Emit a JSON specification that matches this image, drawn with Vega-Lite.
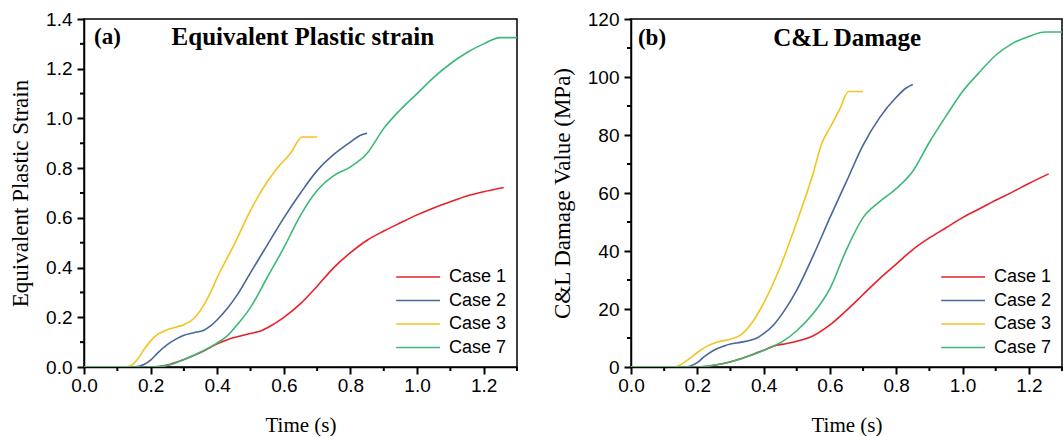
{
  "$schema": "https://vega.github.io/schema/vega-lite/v6.json",
  "padding": {"left": 8, "top": 9, "right": 0, "bottom": 0},
  "spacing": 31,
  "config": {
    "view": {"stroke": "black", "strokeWidth": 1.5},
    "axis": {"ticks": true, "domainColor": "black", "domainWidth": 1.5, "tickColor": "#000000", "tickWidth": 2, "tickSize": 7, "labelColor": "black", "labelFont": "Liberation Sans", "labelFontSize": 19, "titleFont": "Liberation Serif", "titleFontSize": 21, "titleFontWeight": "normal", "titleColor": "black", "grid": false, "labelPadding": 5, "labelFlush": false, "labelOverlap": false},
    "legend": {"labelFont": "Liberation Sans", "labelFontSize": 18, "labelColor": "black"},
    "rule": {"color": "black", "strokeWidth": 2}
  },
  "datasets": {
    "a": [
      {"case": "Case 1", "t": 0, "v": 0}, {"case": "Case 1", "t": 0.2, "v": 0}, {"case": "Case 1", "t": 0.25, "v": 0.008}, {"case": "Case 1", "t": 0.3, "v": 0.03}, {"case": "Case 1", "t": 0.35, "v": 0.058}, {"case": "Case 1", "t": 0.4, "v": 0.093}, {"case": "Case 1", "t": 0.43, "v": 0.11}, {"case": "Case 1", "t": 0.47, "v": 0.125}, {"case": "Case 1", "t": 0.5, "v": 0.135}, {"case": "Case 1", "t": 0.53, "v": 0.145}, {"case": "Case 1", "t": 0.56, "v": 0.165}, {"case": "Case 1", "t": 0.6, "v": 0.2}, {"case": "Case 1", "t": 0.65, "v": 0.255}, {"case": "Case 1", "t": 0.7, "v": 0.325}, {"case": "Case 1", "t": 0.75, "v": 0.4}, {"case": "Case 1", "t": 0.8, "v": 0.46}, {"case": "Case 1", "t": 0.85, "v": 0.51}, {"case": "Case 1", "t": 0.9, "v": 0.547}, {"case": "Case 1", "t": 0.95, "v": 0.58}, {"case": "Case 1", "t": 1.0, "v": 0.612}, {"case": "Case 1", "t": 1.05, "v": 0.64}, {"case": "Case 1", "t": 1.1, "v": 0.665}, {"case": "Case 1", "t": 1.15, "v": 0.688}, {"case": "Case 1", "t": 1.2, "v": 0.705}, {"case": "Case 1", "t": 1.26, "v": 0.722},
      {"case": "Case 2", "t": 0, "v": 0}, {"case": "Case 2", "t": 0.15, "v": 0}, {"case": "Case 2", "t": 0.18, "v": 0.01}, {"case": "Case 2", "t": 0.2, "v": 0.028}, {"case": "Case 2", "t": 0.22, "v": 0.055}, {"case": "Case 2", "t": 0.25, "v": 0.09}, {"case": "Case 2", "t": 0.28, "v": 0.115}, {"case": "Case 2", "t": 0.3, "v": 0.128}, {"case": "Case 2", "t": 0.33, "v": 0.138}, {"case": "Case 2", "t": 0.36, "v": 0.148}, {"case": "Case 2", "t": 0.38, "v": 0.165}, {"case": "Case 2", "t": 0.4, "v": 0.19}, {"case": "Case 2", "t": 0.43, "v": 0.235}, {"case": "Case 2", "t": 0.46, "v": 0.29}, {"case": "Case 2", "t": 0.5, "v": 0.38}, {"case": "Case 2", "t": 0.55, "v": 0.49}, {"case": "Case 2", "t": 0.6, "v": 0.6}, {"case": "Case 2", "t": 0.65, "v": 0.7}, {"case": "Case 2", "t": 0.7, "v": 0.79}, {"case": "Case 2", "t": 0.75, "v": 0.855}, {"case": "Case 2", "t": 0.8, "v": 0.905}, {"case": "Case 2", "t": 0.83, "v": 0.932}, {"case": "Case 2", "t": 0.85, "v": 0.94},
      {"case": "Case 3", "t": 0, "v": 0}, {"case": "Case 3", "t": 0.12, "v": 0}, {"case": "Case 3", "t": 0.14, "v": 0.005}, {"case": "Case 3", "t": 0.16, "v": 0.03}, {"case": "Case 3", "t": 0.18, "v": 0.07}, {"case": "Case 3", "t": 0.2, "v": 0.105}, {"case": "Case 3", "t": 0.22, "v": 0.13}, {"case": "Case 3", "t": 0.25, "v": 0.15}, {"case": "Case 3", "t": 0.28, "v": 0.162}, {"case": "Case 3", "t": 0.3, "v": 0.17}, {"case": "Case 3", "t": 0.33, "v": 0.195}, {"case": "Case 3", "t": 0.36, "v": 0.25}, {"case": "Case 3", "t": 0.38, "v": 0.3}, {"case": "Case 3", "t": 0.4, "v": 0.36}, {"case": "Case 3", "t": 0.45, "v": 0.49}, {"case": "Case 3", "t": 0.5, "v": 0.63}, {"case": "Case 3", "t": 0.55, "v": 0.745}, {"case": "Case 3", "t": 0.58, "v": 0.8}, {"case": "Case 3", "t": 0.62, "v": 0.86}, {"case": "Case 3", "t": 0.655, "v": 0.925}, {"case": "Case 3", "t": 0.7, "v": 0.925},
      {"case": "Case 7", "t": 0, "v": 0}, {"case": "Case 7", "t": 0.2, "v": 0}, {"case": "Case 7", "t": 0.25, "v": 0.006}, {"case": "Case 7", "t": 0.3, "v": 0.03}, {"case": "Case 7", "t": 0.35, "v": 0.06}, {"case": "Case 7", "t": 0.4, "v": 0.097}, {"case": "Case 7", "t": 0.43, "v": 0.125}, {"case": "Case 7", "t": 0.46, "v": 0.17}, {"case": "Case 7", "t": 0.5, "v": 0.24}, {"case": "Case 7", "t": 0.55, "v": 0.36}, {"case": "Case 7", "t": 0.6, "v": 0.48}, {"case": "Case 7", "t": 0.65, "v": 0.61}, {"case": "Case 7", "t": 0.7, "v": 0.71}, {"case": "Case 7", "t": 0.75, "v": 0.77}, {"case": "Case 7", "t": 0.8, "v": 0.805}, {"case": "Case 7", "t": 0.85, "v": 0.86}, {"case": "Case 7", "t": 0.9, "v": 0.96}, {"case": "Case 7", "t": 0.95, "v": 1.035}, {"case": "Case 7", "t": 1.0, "v": 1.1}, {"case": "Case 7", "t": 1.05, "v": 1.165}, {"case": "Case 7", "t": 1.1, "v": 1.22}, {"case": "Case 7", "t": 1.15, "v": 1.265}, {"case": "Case 7", "t": 1.2, "v": 1.3}, {"case": "Case 7", "t": 1.25, "v": 1.325}, {"case": "Case 7", "t": 1.3, "v": 1.325}
    ],
    "b": [
      {"case": "Case 1", "t": 0, "v": 0}, {"case": "Case 1", "t": 0.2, "v": 0}, {"case": "Case 1", "t": 0.25, "v": 0.6}, {"case": "Case 1", "t": 0.3, "v": 1.8}, {"case": "Case 1", "t": 0.35, "v": 3.6}, {"case": "Case 1", "t": 0.4, "v": 5.8}, {"case": "Case 1", "t": 0.43, "v": 7.2}, {"case": "Case 1", "t": 0.47, "v": 8.1}, {"case": "Case 1", "t": 0.5, "v": 8.9}, {"case": "Case 1", "t": 0.55, "v": 10.8}, {"case": "Case 1", "t": 0.6, "v": 14.5}, {"case": "Case 1", "t": 0.65, "v": 19.5}, {"case": "Case 1", "t": 0.7, "v": 25}, {"case": "Case 1", "t": 0.75, "v": 30.5}, {"case": "Case 1", "t": 0.8, "v": 35.5}, {"case": "Case 1", "t": 0.85, "v": 40.5}, {"case": "Case 1", "t": 0.9, "v": 44.5}, {"case": "Case 1", "t": 0.95, "v": 48}, {"case": "Case 1", "t": 1.0, "v": 51.5}, {"case": "Case 1", "t": 1.05, "v": 54.5}, {"case": "Case 1", "t": 1.1, "v": 57.5}, {"case": "Case 1", "t": 1.15, "v": 60.3}, {"case": "Case 1", "t": 1.2, "v": 63.3}, {"case": "Case 1", "t": 1.26, "v": 66.6},
      {"case": "Case 2", "t": 0, "v": 0}, {"case": "Case 2", "t": 0.16, "v": 0}, {"case": "Case 2", "t": 0.2, "v": 1.5}, {"case": "Case 2", "t": 0.22, "v": 3.5}, {"case": "Case 2", "t": 0.25, "v": 5.8}, {"case": "Case 2", "t": 0.28, "v": 7.2}, {"case": "Case 2", "t": 0.3, "v": 7.9}, {"case": "Case 2", "t": 0.33, "v": 8.5}, {"case": "Case 2", "t": 0.36, "v": 9.2}, {"case": "Case 2", "t": 0.38, "v": 10}, {"case": "Case 2", "t": 0.4, "v": 11.5}, {"case": "Case 2", "t": 0.43, "v": 14.5}, {"case": "Case 2", "t": 0.46, "v": 19}, {"case": "Case 2", "t": 0.5, "v": 26.5}, {"case": "Case 2", "t": 0.55, "v": 38.5}, {"case": "Case 2", "t": 0.6, "v": 51.5}, {"case": "Case 2", "t": 0.65, "v": 64}, {"case": "Case 2", "t": 0.7, "v": 76.5}, {"case": "Case 2", "t": 0.75, "v": 86}, {"case": "Case 2", "t": 0.8, "v": 93}, {"case": "Case 2", "t": 0.83, "v": 96.2}, {"case": "Case 2", "t": 0.85, "v": 97.4},
      {"case": "Case 3", "t": 0, "v": 0}, {"case": "Case 3", "t": 0.13, "v": 0}, {"case": "Case 3", "t": 0.15, "v": 0.8}, {"case": "Case 3", "t": 0.18, "v": 3.2}, {"case": "Case 3", "t": 0.2, "v": 5}, {"case": "Case 3", "t": 0.23, "v": 7.2}, {"case": "Case 3", "t": 0.26, "v": 8.6}, {"case": "Case 3", "t": 0.3, "v": 9.6}, {"case": "Case 3", "t": 0.33, "v": 11}, {"case": "Case 3", "t": 0.36, "v": 14.5}, {"case": "Case 3", "t": 0.4, "v": 22}, {"case": "Case 3", "t": 0.45, "v": 34.5}, {"case": "Case 3", "t": 0.5, "v": 50}, {"case": "Case 3", "t": 0.55, "v": 67}, {"case": "Case 3", "t": 0.575, "v": 77}, {"case": "Case 3", "t": 0.6, "v": 82.5}, {"case": "Case 3", "t": 0.63, "v": 89}, {"case": "Case 3", "t": 0.656, "v": 95}, {"case": "Case 3", "t": 0.7, "v": 95},
      {"case": "Case 7", "t": 0, "v": 0}, {"case": "Case 7", "t": 0.2, "v": 0}, {"case": "Case 7", "t": 0.25, "v": 0.6}, {"case": "Case 7", "t": 0.3, "v": 1.7}, {"case": "Case 7", "t": 0.35, "v": 3.5}, {"case": "Case 7", "t": 0.4, "v": 5.7}, {"case": "Case 7", "t": 0.43, "v": 7.2}, {"case": "Case 7", "t": 0.46, "v": 9}, {"case": "Case 7", "t": 0.5, "v": 12.5}, {"case": "Case 7", "t": 0.55, "v": 18.5}, {"case": "Case 7", "t": 0.6, "v": 27}, {"case": "Case 7", "t": 0.65, "v": 40.5}, {"case": "Case 7", "t": 0.7, "v": 51.5}, {"case": "Case 7", "t": 0.75, "v": 57}, {"case": "Case 7", "t": 0.8, "v": 61.5}, {"case": "Case 7", "t": 0.85, "v": 67.5}, {"case": "Case 7", "t": 0.9, "v": 77.5}, {"case": "Case 7", "t": 0.95, "v": 86.5}, {"case": "Case 7", "t": 1.0, "v": 95}, {"case": "Case 7", "t": 1.05, "v": 101.5}, {"case": "Case 7", "t": 1.1, "v": 107.5}, {"case": "Case 7", "t": 1.15, "v": 111.5}, {"case": "Case 7", "t": 1.2, "v": 114}, {"case": "Case 7", "t": 1.25, "v": 115.5}, {"case": "Case 7", "t": 1.3, "v": 115.5}
    ],
    "xminor": [{"p": 0.1}, {"p": 0.3}, {"p": 0.5}, {"p": 0.7}, {"p": 0.9}, {"p": 1.1}, {"p": 1.3}],
    "yaminor": [{"p": 0.1}, {"p": 0.3}, {"p": 0.5}, {"p": 0.7}, {"p": 0.9}, {"p": 1.1}, {"p": 1.3}],
    "ybminor": [{"p": 10}, {"p": 30}, {"p": 50}, {"p": 70}, {"p": 90}, {"p": 110}]
  },
  "resolve": {"scale": {"x": "independent", "y": "independent", "color": "independent"}, "legend": {"color": "independent"}},
  "hconcat": [
    {
      "width": 433, "height": 348,
      "layer": [
        {
          "data": {"name": "a"},
          "mark": {"type": "line", "strokeWidth": 1.6, "interpolate": "monotone", "clip": true},
          "encoding": {
            "x": {"field": "t", "type": "quantitative", "scale": {"domain": [0, 1.3], "nice": false},
              "axis": {"title": "Time (s)", "titlePadding": 19, "labelPadding": 2, "values": [0, 0.2, 0.4, 0.6, 0.8, 1.0, 1.2], "format": ".1f"}},
            "y": {"field": "v", "type": "quantitative", "scale": {"domain": [0, 1.4], "nice": false},
              "axis": {"title": "Equivalent Plastic Strain", "titleFontSize": 23, "titlePadding": 13, "values": [0, 0.2, 0.4, 0.6, 0.8, 1.0, 1.2, 1.4], "format": ".1f"}},
            "color": {"field": "case", "type": "nominal",
              "scale": {"domain": ["Case 1", "Case 2", "Case 3", "Case 7"], "range": ["#e8202a", "#46679a", "#f2c41e", "#3cb878"]},
              "legend": {"title": null, "orient": "bottom-right", "offset": 10, "padding": 0, "symbolType": "M-6.3,0H1", "symbolSize": 144, "symbolStrokeWidth": 1.6, "labelOffset": 6, "rowPadding": 5.5}}
          }
        },
        {
          "data": {"name": "xminor"},
          "mark": {"type": "rule", "clip": false},
          "encoding": {"x": {"field": "p", "type": "quantitative"}, "y": {"datum": 0, "type": "quantitative"}, "y2": {"datum": -0.0161}}
        },
        {
          "data": {"name": "yaminor"},
          "mark": {"type": "rule", "clip": false},
          "encoding": {"y": {"field": "p", "type": "quantitative"}, "x": {"datum": 0, "type": "quantitative"}, "x2": {"datum": -0.012}}
        },
        {
          "data": {"values": [{}]},
          "mark": {"type": "text", "text": "(a)", "font": "Liberation Serif", "fontWeight": "bold", "fontSize": 23, "align": "left", "baseline": "middle", "color": "black"},
          "encoding": {"x": {"datum": 0.03, "type": "quantitative"}, "y": {"datum": 1.329, "type": "quantitative"}}
        },
        {
          "data": {"values": [{}]},
          "mark": {"type": "text", "text": "Equivalent Plastic strain", "font": "Liberation Serif", "fontWeight": "bold", "fontSize": 25, "align": "center", "baseline": "middle", "color": "black"},
          "encoding": {"x": {"datum": 0.657, "type": "quantitative"}, "y": {"datum": 1.329, "type": "quantitative"}}
        }
      ]
    },
    {
      "width": 431, "height": 348,
      "layer": [
        {
          "data": {"name": "b"},
          "mark": {"type": "line", "strokeWidth": 1.6, "interpolate": "monotone", "clip": true},
          "encoding": {
            "x": {"field": "t", "type": "quantitative", "scale": {"domain": [0, 1.3], "nice": false},
              "axis": {"title": "Time (s)", "titlePadding": 19, "labelPadding": 2, "values": [0, 0.2, 0.4, 0.6, 0.8, 1.0, 1.2], "format": ".1f"}},
            "y": {"field": "v", "type": "quantitative", "scale": {"domain": [0, 120], "nice": false},
              "axis": {"title": "C&L Damage Value (MPa)", "titleFontSize": 23, "titlePadding": 13, "values": [0, 20, 40, 60, 80, 100, 120], "format": "d"}},
            "color": {"field": "case", "type": "nominal",
              "scale": {"domain": ["Case 1", "Case 2", "Case 3", "Case 7"], "range": ["#e8202a", "#46679a", "#f2c41e", "#3cb878"]},
              "legend": {"title": null, "orient": "bottom-right", "offset": 10, "padding": 0, "symbolType": "M-6.3,0H1", "symbolSize": 144, "symbolStrokeWidth": 1.6, "labelOffset": 6, "rowPadding": 5.5}}
          }
        },
        {
          "data": {"name": "xminor"},
          "mark": {"type": "rule", "clip": false},
          "encoding": {"x": {"field": "p", "type": "quantitative"}, "y": {"datum": 0, "type": "quantitative"}, "y2": {"datum": -1.379}}
        },
        {
          "data": {"name": "ybminor"},
          "mark": {"type": "rule", "clip": false},
          "encoding": {"y": {"field": "p", "type": "quantitative"}, "x": {"datum": 0, "type": "quantitative"}, "x2": {"datum": -0.0121}}
        },
        {
          "data": {"values": [{}]},
          "mark": {"type": "text", "text": "(b)", "font": "Liberation Serif", "fontWeight": "bold", "fontSize": 23, "align": "left", "baseline": "middle", "color": "black"},
          "encoding": {"x": {"datum": 0.021, "type": "quantitative"}, "y": {"datum": 113.3, "type": "quantitative"}}
        },
        {
          "data": {"values": [{}]},
          "mark": {"type": "text", "text": "C&L Damage", "font": "Liberation Serif", "fontWeight": "bold", "fontSize": 25, "align": "center", "baseline": "middle", "color": "black"},
          "encoding": {"x": {"datum": 0.652, "type": "quantitative"}, "y": {"datum": 113.3, "type": "quantitative"}}
        }
      ]
    }
  ]
}
